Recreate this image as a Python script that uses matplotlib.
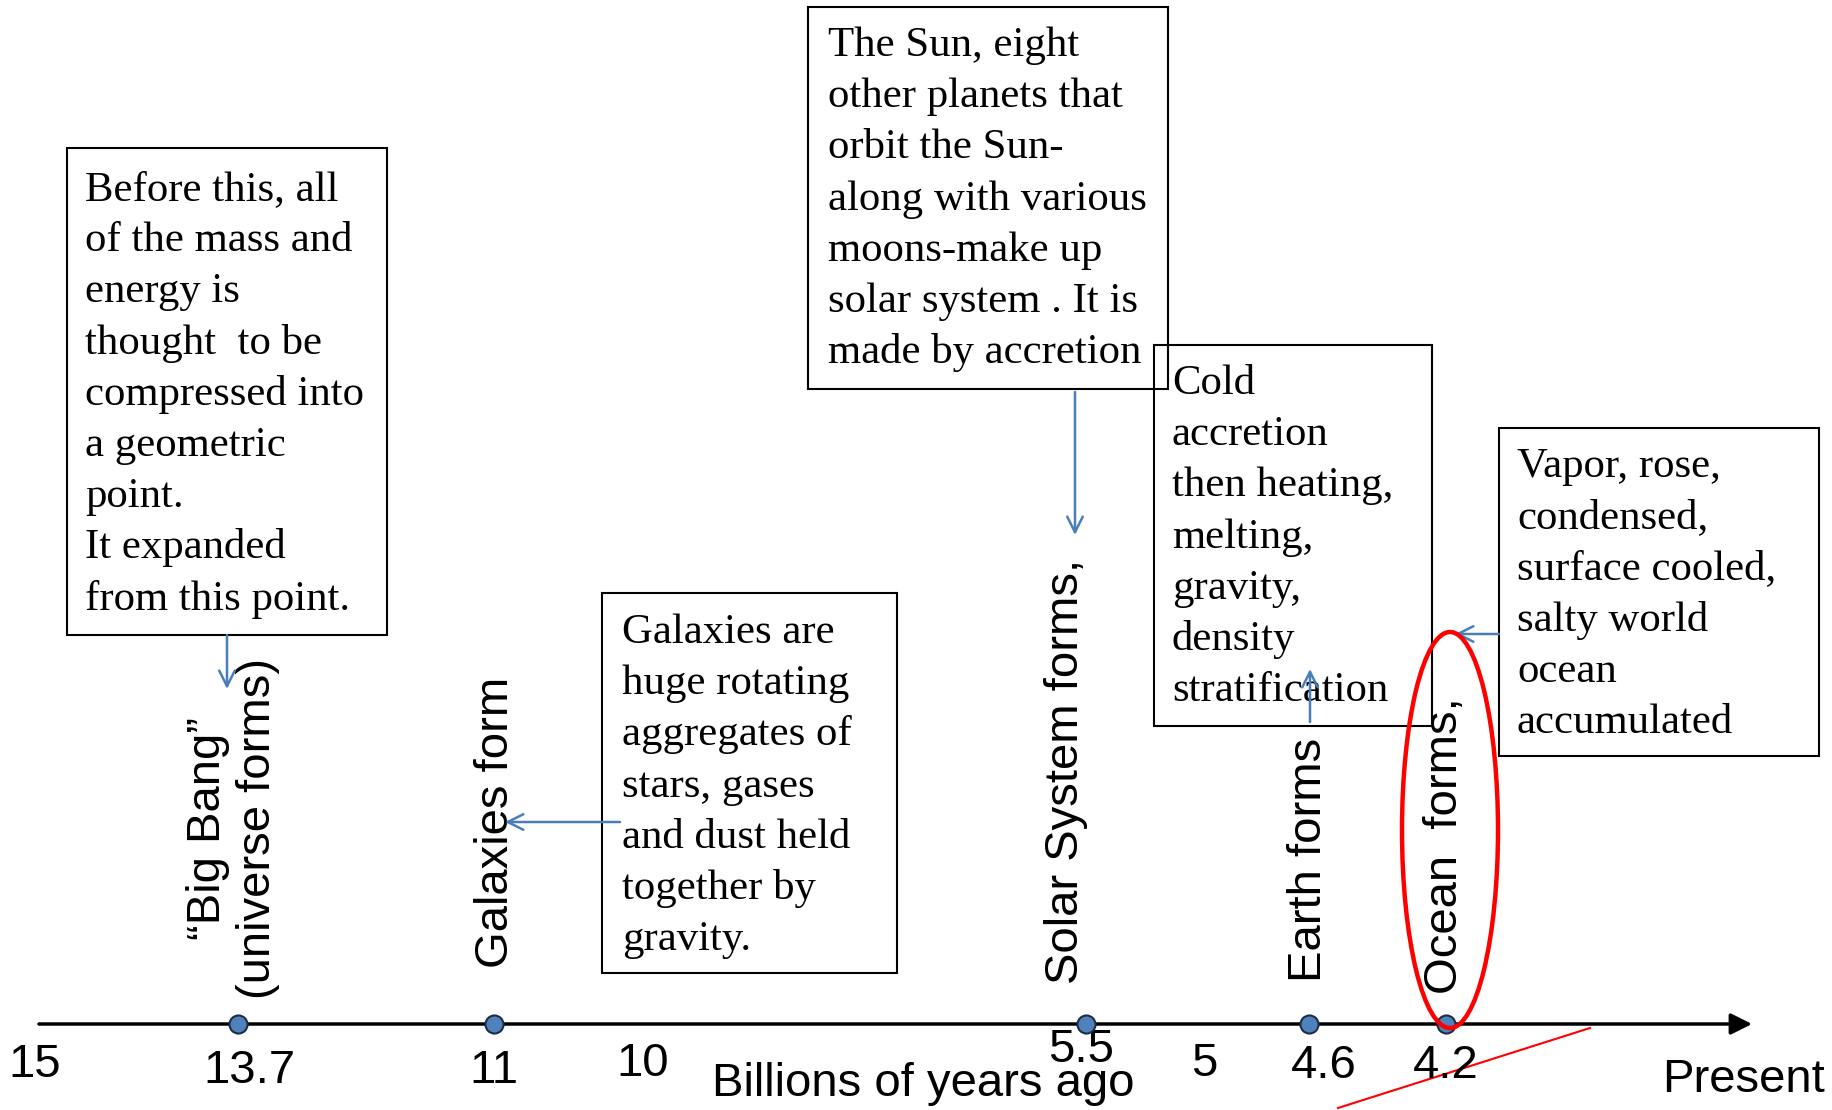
import matplotlib.pyplot as plt
from matplotlib.patches import Rectangle, Ellipse

# timeline ticks (billions of years ago)
tick_labels = ['15', '13.7', '11', '10', '5.5', '5', '4.6', '4.2', 'Present']
tick_x = [35, 249, 494, 643, 1081, 1204, 1324, 1446, 1744]
tick_y = [1065, 1071, 1071, 1064, 1050, 1064, 1066, 1066, 1080]

# events on the timeline
event_ages = [13.7, 11, 5.5, 4.6, 4.2]
event_names = ['\u201cBig Bang\u201d\n(universe forms)', 'Galaxies form',
               'Solar System forms,', 'Earth forms', 'Ocean  forms,']
event_x = [238, 494, 1086, 1309, 1446]
label_x = [233, 496, 1066, 1309, 1445]
label_bottom = [999, 968, 984, 982, 994]

# text boxes
box_texts = [
    ['Before this, all', 'of the mass and', 'energy is', 'thought  to be',
     'compressed into', 'a geometric', 'point.', 'It expanded', 'from this point.'],
    ['Galaxies are', 'huge rotating', 'aggregates of', 'stars, gases',
     'and dust held', 'together by', 'gravity.'],
    ['The Sun, eight', 'other planets that', 'orbit the Sun-', 'along with various',
     'moons-make up', 'solar system . It is', 'made by accretion'],
    ['Cold', 'accretion', 'then heating,', 'melting,', 'gravity,', 'density',
     'stratification'],
    ['Vapor, rose,', 'condensed,', 'surface cooled,', 'salty world', 'ocean',
     'accumulated'],
]
box_rects = [(67, 148, 320, 487), (602, 593, 295, 380), (808, 7, 360, 382),
             (1154, 345, 278, 381), (1499, 428, 320, 328)]
text_start = [(85, 200), (622, 643), (828, 56), (1172, 394), (1517, 477)]
line_step = 51.2

# arrows: (start, end)
arrows = [((227, 635), (227, 689)), ((620, 822), (505, 822)),
          ((1075, 392), (1075, 535)), ((1310, 722), (1310, 669)),
          ((1499, 634), (1455, 634))]

blue = '#4a7ebb'

fig = plt.figure(figsize=(18.33, 11.10), dpi=100)
ax = fig.add_axes([0, 0, 1, 1])
ax.set_xlim(0, 1833)
ax.set_ylim(1110, 0)
ax.axis('off')

# main axis line
ax.annotate('', xy=(1752, 1024), xytext=(39, 1024),
            arrowprops=dict(arrowstyle='-|>', lw=2.5, color='black',
                            mutation_scale=32, shrinkA=0, shrinkB=0))

for lab, x, y in zip(tick_labels, tick_x, tick_y):
    ax.text(x, y, lab, fontsize=34, family='Liberation Sans',
            ha='center', va='center')
ax.text(923, 1084, 'Billions of years ago', fontsize=34,
        family='Liberation Sans', ha='center', va='center')

for x, name, lx, lb in zip(event_x, event_names, label_x, label_bottom):
    ax.plot(x, 1024, 'o', ms=13, mfc='#4f81bd', mec='#1f2d44', mew=1.5,
            zorder=5)
    ax.text(lx, lb, name, fontsize=34, family='Liberation Sans', rotation=90,
            ha='center', va='bottom', multialignment='center',
            linespacing=1.15)

for lines, (bx, by, bw, bh), (tx, ty) in zip(box_texts, box_rects, text_start):
    ax.add_patch(Rectangle((bx, by), bw, bh, fill=False, ec='black', lw=1.5))
    for i, line in enumerate(lines):
        ax.text(tx, ty + i * line_step, line, fontsize=30.8,
                family='Liberation Serif', ha='left', va='baseline')

for (x0, y0), (x1, y1) in arrows:
    ax.annotate('', xy=(x1, y1), xytext=(x0, y0),
                arrowprops=dict(arrowstyle='->', lw=1.8, color=blue,
                                mutation_scale=28, shrinkA=0, shrinkB=0))

# red highlight
ax.add_patch(Ellipse((1450, 830), 96, 396, fill=False, ec='red', lw=3.2,
                     zorder=6))
ax.plot([1338, 1590], [1108, 1028], color='red', lw=1.5)

fig.savefig('out.png', dpi=100)
